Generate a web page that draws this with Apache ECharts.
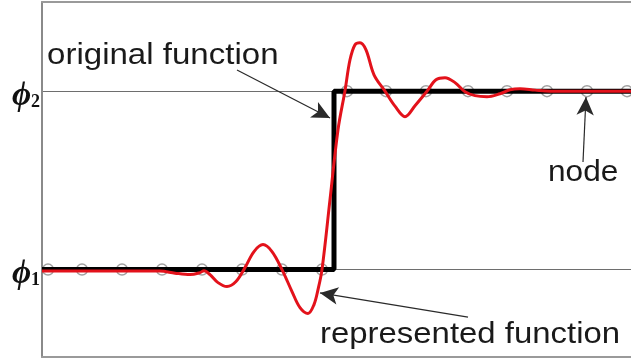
<!DOCTYPE html>
<html><head><meta charset="utf-8">
<script src="https://cdn.jsdelivr.net/npm/echarts@6/dist/echarts.min.js"></script>
<style>html,body{margin:0;padding:0;background:#fff}#c{width:631px;height:360px}</style>
</head><body><div id="c"></div>
<script>
// Levels of the step (phi1 = 0, phi2 = 1)
const levelValues = [0, 1];
const levelSubscripts = ['1', '2'];

// Node positions (x in node-spacing units)
const nodeXLow  = [0.15, 1, 2, 3, 4, 5, 6, 7];
const nodeXHigh = [7.625, 8.6, 9.6, 10.65, 11.625, 12.625, 13.625, 14.625];

// Original (step) function
const stepX = [0, 7.3, 7.3, 14.725];
const stepY = [0, 0, 1, 1];

// Represented (oscillating) function
const reprX = [0, 1.45, 2.95, 3.325, 3.7, 3.95, 4.05, 4.2, 4.4, 4.625, 4.85, 5.075, 5.3, 5.525, 5.75, 6.0, 6.25, 6.45, 6.65, 6.8, 6.9, 7.0, 7.2, 7.4, 7.575, 7.7, 7.825, 7.95, 8.1, 8.3, 8.575, 8.825, 9.075, 9.325, 9.625, 9.85, 10.075, 10.325, 10.575, 10.825, 11.125, 11.45, 11.7, 11.95, 12.325, 12.7, 14.725];
const reprY = [-0.008, -0.008, -0.008, -0.02, -0.028, -0.017, -0.006, -0.028, -0.073, -0.095, -0.067, 0.011, 0.101, 0.140, 0.101, 0, -0.123, -0.213, -0.246, -0.196, -0.112, 0, 0.392, 0.784, 1.003, 1.176, 1.261, 1.272, 1.232, 1.092, 1.0, 0.916, 0.857, 0.919, 1.0, 1.064, 1.076, 1.048, 0.997, 0.975, 0.969, 0.986, 1.008, 1.014, 1.006, 1.0, 1.0];

// Annotation labels and arrows (arrow from -> to in data units)
const annotationTexts = ['original function', 'node', 'represented function'];
const arrowFromX = [4.875, 13.525, 10.65];
const arrowFromY = [1.119, 0.603, -0.266];
const arrowToX   = [7.2, 13.6, 6.95];
const arrowToY   = [0.85, 0.967, -0.131];

const X_MIN = 0, X_MAX = 14.725, Y_MIN = -0.49, Y_MAX = 1.5;

const chart = echarts.init(document.getElementById('c'), null, {renderer: 'canvas'});

const zip = (a, b) => a.map((v, i) => [v, b[i]]);
const nodes = nodeXLow.map(x => [x, levelValues[0]]).concat(nodeXHigh.map(x => [x, levelValues[1]]));

const arrowData = arrowFromX.map((x, i) => [
  {coord: [x, arrowFromY[i]], symbol: 'none'},
  {coord: [arrowToX[i], arrowToY[i]], symbol: 'arrow'}
]);

const axisLineStyle = {color: '#9a9a9a', width: 2};

chart.setOption({
  animation: false,
  backgroundColor: '#fff',
  grid: {left: 42, right: 0, top: 2, bottom: 3},
  xAxis: [
    {type: 'value', min: X_MIN, max: X_MAX, position: 'bottom',
     axisLine: {show: true, onZero: false, lineStyle: axisLineStyle},
     axisTick: {show: false}, axisLabel: {show: false}, splitLine: {show: false}},
    {type: 'value', min: X_MIN, max: X_MAX, position: 'top',
     axisLine: {show: true, onZero: false, lineStyle: axisLineStyle},
     axisTick: {show: false}, axisLabel: {show: false}, splitLine: {show: false}}
  ],
  yAxis: {
    type: 'value', min: Y_MIN, max: Y_MAX,
    axisLine: {show: true, onZero: false, lineStyle: {color: '#8a8a8a', width: 2}},
    axisTick: {show: false}, splitLine: {show: false},
    axisLabel: {
      show: true, customValues: levelValues, margin: 2,
      formatter: v => '{p|\u03D5}{s|' + levelSubscripts[levelValues.indexOf(v)] + '}',
      rich: {
        p: {fontFamily: '"Liberation Serif", "DejaVu Serif", serif', fontStyle: 'italic', fontWeight: 'bold', fontSize: 33, color: '#111', lineHeight: 34, padding: [10, 0, 0, 0]},
        s: {fontFamily: '"Liberation Serif", "DejaVu Serif", serif', fontWeight: 'bold', fontSize: 18, color: '#111', padding: [22, 0, 0, 0]}
      }
    }
  },
  series: [
    {
      name: 'nodes', type: 'scatter', data: nodes, z: 1,
      symbol: 'circle', symbolSize: 11,
      itemStyle: {color: 'rgba(255,255,255,0)', borderColor: '#8a8a8a', borderWidth: 1.5},
      markLine: {
        silent: true, z: 0, symbol: ['none', 'none'], label: {show: false},
        lineStyle: {color: '#6e6e6e', width: 1, type: 'solid'},
        data: levelValues.map(v => ({yAxis: v}))
      }
    },
    {
      name: 'original function', type: 'line', data: zip(stepX, stepY), z: 6,
      symbol: 'none', emphasis: {disabled: true},
      lineStyle: {color: '#000', width: 5, opacity: 1}
    },
    {
      name: 'represented function', type: 'line', data: zip(reprX, reprY), z: 7,
      symbol: 'none', smooth: 0.35, emphasis: {disabled: true},
      lineStyle: {color: '#e3121b', width: 3},
      markLine: {
        silent: true, z: 8, symbolSize: [13, 18], label: {show: false},
        lineStyle: {color: '#2a2a2a', width: 1.2, type: 'solid'},
        data: arrowData
      }
    }
  ]
});

// Text labels for annotations, placed beside the arrows' tails
const textPos = [[47, 56, 1.14], [548, 173, 1.09], [320, 335, 1.135]];
chart.setOption({
  graphic: annotationTexts.map((t, i) => ({
    type: 'text', x: textPos[i][0], y: textPos[i][1], scaleX: textPos[i][2], z: 10,
    style: {text: t, font: '29px "Liberation Sans", Arial, sans-serif', fill: '#1a1a1a', verticalAlign: 'middle', align: 'left'}
  }))
});
</script>
</body></html>
